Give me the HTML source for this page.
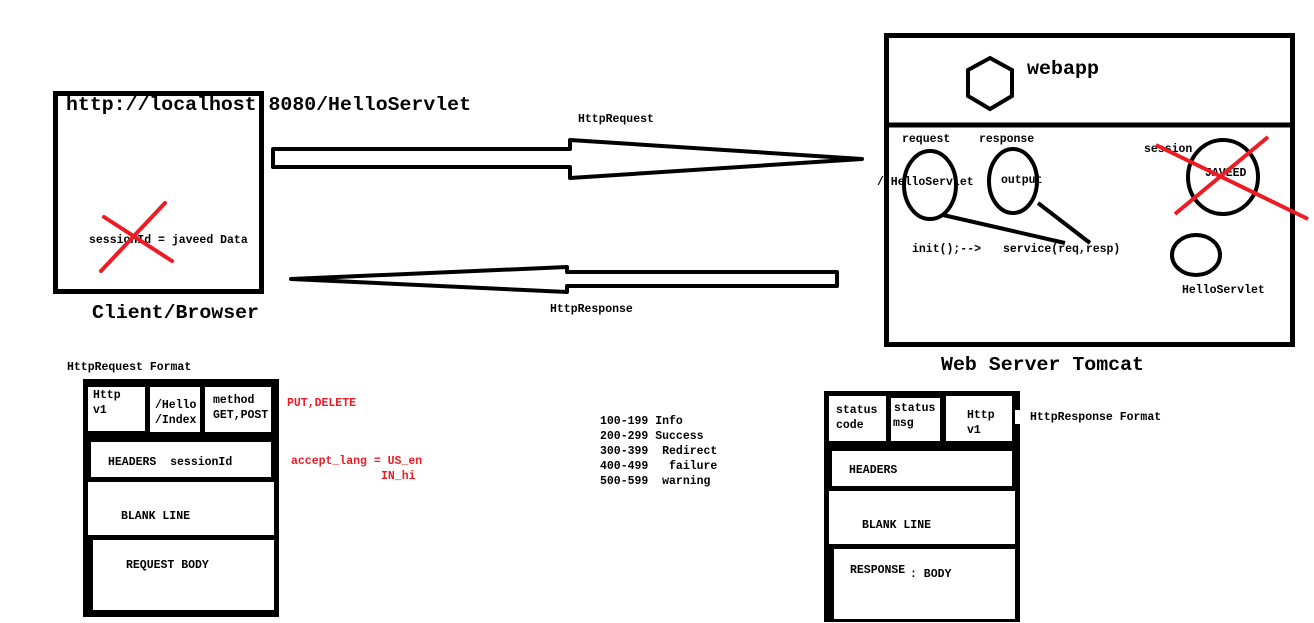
<!DOCTYPE html>
<html><head><meta charset="utf-8"><style>
html,body{margin:0;padding:0;background:#fff;}
svg{display:block;}
text{font-family:"Liberation Mono","DejaVu Sans Mono",monospace;font-weight:bold;fill:#000;white-space:pre;}
.s{font-size:11.5px;}
.b{font-size:19px;}
.r{fill:#ed1c24;}
</style></head><body>
<svg width="1314" height="623" viewBox="0 0 1314 623" xmlns="http://www.w3.org/2000/svg" xml:space="preserve">
<rect width="1314" height="623" fill="#fff"/>
<!-- client box -->
<rect x="55.5" y="93.5" width="206" height="198" fill="none" stroke="#000" stroke-width="5"/>
<text class="b" x="66" y="110" textLength="405" lengthAdjust="spacingAndGlyphs">http://localhost 8080/HelloServlet</text>
<text class="s" x="89" y="243">sessionId = javeed Data</text>
<line x1="104" y1="217" x2="172" y2="261" stroke="#ed1c24" stroke-width="4" stroke-linecap="round"/>
<line x1="101" y1="271" x2="165" y2="203" stroke="#ed1c24" stroke-width="4" stroke-linecap="round"/>
<text class="b" x="92" y="318" textLength="167" lengthAdjust="spacingAndGlyphs">Client/Browser</text>
<!-- request arrow -->
<polygon points="273,149 570,149 570,140 862,159 570,178 570,167 273,167" fill="none" stroke="#000" stroke-width="4" stroke-linejoin="round"/>
<text class="s" x="578" y="122">HttpRequest</text>
<!-- response arrow -->
<polygon points="837,272 567,272 567,267 291,279 567,292 567,286 837,286" fill="none" stroke="#000" stroke-width="4" stroke-linejoin="round"/>
<text class="s" x="550" y="312">HttpResponse</text>
<!-- server -->
<rect x="886.5" y="35.5" width="406" height="309" fill="none" stroke="#000" stroke-width="5"/>
<line x1="886" y1="125" x2="1295" y2="125" stroke="#000" stroke-width="5"/>
<polygon points="990,58 1012,70 1012,96 990,109 968,96 968,70" fill="none" stroke="#000" stroke-width="4"/>
<text x="1027" y="74" style="font-size:19px" textLength="72" lengthAdjust="spacingAndGlyphs">webapp</text>
<text class="s" x="902" y="142">request</text>
<text class="s" x="979" y="142">response</text>
<text class="s" x="1144" y="152">session</text>
<ellipse cx="930" cy="185" rx="26" ry="34" fill="none" stroke="#000" stroke-width="4"/>
<text class="s" x="877" y="185">/ HelloServlet</text>
<ellipse cx="1013" cy="181" rx="24" ry="32" fill="none" stroke="#000" stroke-width="4"/>
<text class="s" x="1001" y="183">output</text>
<line x1="943" y1="215" x2="1065" y2="243" stroke="#000" stroke-width="4"/>
<line x1="1038" y1="203" x2="1090" y2="243" stroke="#000" stroke-width="4"/>
<text class="s" x="912" y="252">init();--></text>
<text class="s" x="1003" y="252">service(req,resp)</text>
<ellipse cx="1223" cy="177" rx="35" ry="37" fill="none" stroke="#000" stroke-width="4"/>
<text class="s" x="1205" y="176">JAVEED</text>
<line x1="1156" y1="145" x2="1308" y2="219" stroke="#ed1c24" stroke-width="4"/>
<line x1="1175" y1="214" x2="1268" y2="137" stroke="#ed1c24" stroke-width="4"/>
<ellipse cx="1196" cy="255" rx="24" ry="20" fill="none" stroke="#000" stroke-width="4"/>
<text class="s" x="1182" y="293">HelloServlet</text>
<text class="b" x="941" y="370" textLength="203" lengthAdjust="spacingAndGlyphs">Web Server Tomcat</text>
<!-- request format -->
<text class="s" x="67" y="370">HttpRequest Format</text>
<rect x="83" y="379" width="196" height="238" fill="#000"/>
<rect x="88" y="387" width="57" height="44" fill="#fff"/>
<rect x="150" y="387" width="50" height="45" fill="#fff"/>
<rect x="205" y="387" width="66" height="45" fill="#fff"/>
<rect x="91" y="442" width="180" height="35" fill="#fff"/>
<rect x="88" y="482" width="186" height="53" fill="#fff"/>
<rect x="93" y="540" width="181" height="70" fill="#fff"/>
<text class="s" x="93" y="398">Http</text>
<text class="s" x="93" y="413">v1</text>
<text class="s" x="155" y="408">/Hello</text>
<text class="s" x="155" y="423">/Index</text>
<text class="s" x="213" y="403">method</text>
<text class="s" x="213" y="418">GET,POST</text>
<text class="s" x="108" y="465">HEADERS  sessionId</text>
<text class="s" x="121" y="519">BLANK LINE</text>
<text class="s" x="126" y="568">REQUEST BODY</text>
<text class="s r" x="287" y="406">PUT,DELETE</text>
<text class="s r" x="291" y="464">accept_lang = US_en</text>
<text class="s r" x="381" y="479">IN_hi</text>
<!-- status codes -->
<text class="s" x="600" y="424">100-199 Info</text>
<text class="s" x="600" y="439">200-299 Success</text>
<text class="s" x="600" y="454">300-399  Redirect</text>
<text class="s" x="600" y="469">400-499   failure</text>
<text class="s" x="600" y="484">500-599  warning</text>
<!-- response format -->
<rect x="824" y="391" width="196" height="231" fill="#000"/>
<rect x="1015" y="410" width="6" height="14" fill="#fff"/>
<rect x="829" y="396" width="57" height="45" fill="#fff"/>
<rect x="891" y="398" width="49" height="43" fill="#fff"/>
<rect x="946" y="396" width="66" height="45" fill="#fff"/>
<rect x="832" y="451" width="180" height="35" fill="#fff"/>
<rect x="829" y="491" width="186" height="53" fill="#fff"/>
<rect x="834" y="549" width="181" height="70" fill="#fff"/>
<text class="s" x="836" y="413">status</text>
<text class="s" x="836" y="428">code</text>
<text class="s" x="894" y="411">status</text>
<text class="s" x="893" y="426">msg</text>
<text class="s" x="967" y="418">Http</text>
<text class="s" x="967" y="433">v1</text>
<text class="s" x="849" y="473">HEADERS</text>
<text class="s" x="862" y="528">BLANK LINE</text>
<text class="s" x="850" y="573">RESPONSE</text>
<text class="s" x="910" y="577">: BODY</text>
<text class="s" x="1030" y="420">HttpResponse Format</text>
</svg>
</body></html>
